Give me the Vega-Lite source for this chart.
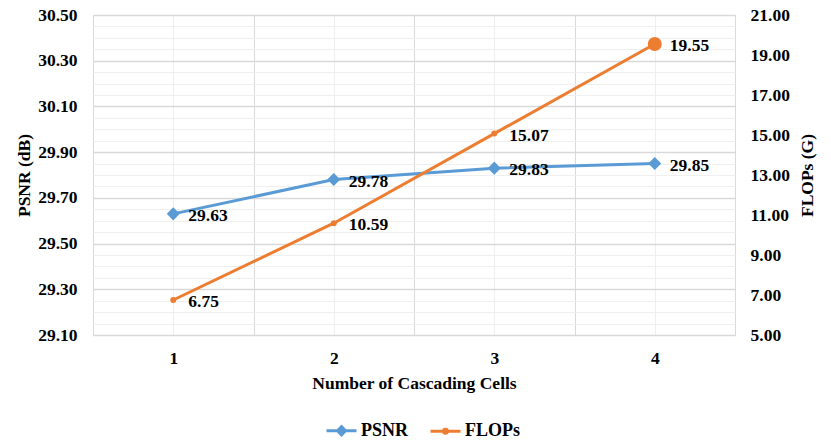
{
  "$schema": "https://vega.github.io/schema/vega-lite/v6.json",
  "autosize": "none",
  "width": 642,
  "height": 320,
  "padding": {"left": 93, "top": 15, "right": 96, "bottom": 107},
  "background": "white",
  "config": {
    "view": {"stroke": "#d9d9d9", "strokeWidth": 1},
    "font": "Liberation Serif",
    "axis": {"labelFont": "Liberation Serif", "titleFont": "Liberation Serif", "labelFontWeight": "bold", "titleFontWeight": "bold", "labelFontSize": 17.5, "titleFontSize": 17.5, "labelColor": "black", "titleColor": "black", "domain": false, "ticks": false, "tickSize": 0},
    "legend": {"labelFont": "Liberation Serif", "labelFontWeight": "bold", "labelFontSize": 18, "labelColor": "black"}
  },
  "data": {"values": [
    {"cells": 1, "series": "PSNR", "value": 29.63},
    {"cells": 2, "series": "PSNR", "value": 29.78},
    {"cells": 3, "series": "PSNR", "value": 29.83},
    {"cells": 4, "series": "PSNR", "value": 29.85},
    {"cells": 1, "series": "FLOPs", "value": 6.75},
    {"cells": 2, "series": "FLOPs", "value": 10.59},
    {"cells": 3, "series": "FLOPs", "value": 15.07},
    {"cells": 4, "series": "FLOPs", "value": 19.55}
  ]},
  "encoding": {
    "x": {
      "field": "cells", "type": "quantitative",
      "scale": {"domain": [0.5, 4.5], "nice": false, "zero": false},
      "axis": {
        "title": "Number of Cascading Cells",
        "values": [0.5, 1, 1.5, 2, 2.5, 3, 3.5, 4, 4.5],
        "labelExpr": "datum.value % 1 == 0 ? format(datum.value, 'd') : ''",
        "labelPadding": 14,
        "titlePadding": 8,
        "grid": true,
        "gridColor": {"condition": {"test": "datum.value % 1 == 0", "value": "#efefef"}, "value": "#d9d9d9"},
        "gridWidth": 1
      }
    }
  },
  "layer": [
    {
      "transform": [{"filter": "datum.series == 'PSNR'"}],
      "encoding": {
        "y": {
          "field": "value", "type": "quantitative",
          "scale": {"domain": [29.1, 30.5], "nice": false, "zero": false},
          "axis": {
            "title": "PSNR (dB)",
            "orient": "left",
            "values": [29.1, 29.15, 29.2, 29.25, 29.3, 29.35, 29.4, 29.45, 29.5, 29.55, 29.6, 29.65, 29.7, 29.75, 29.8, 29.85, 29.9, 29.95, 30.0, 30.05, 30.1, 30.15, 30.2, 30.25, 30.3, 30.35, 30.4, 30.45, 30.5],
            "labelExpr": "abs((datum.value - 29.1) / 0.2 - round((datum.value - 29.1) / 0.2)) < 0.001 ? format(datum.value, '.2f') : ''",
            "labelPadding": 16,
            "titleX": -69,
            "titleY": 160,
            "titleAngle": 270,
            "titleAlign": "center",
            "titleBaseline": "middle",
            "grid": true,
            "gridColor": {"condition": {"test": "abs((datum.value - 29.1) / 0.2 - round((datum.value - 29.1) / 0.2)) < 0.001", "value": "#d9d9d9"}, "value": "#efefef"},
            "gridWidth": {"condition": {"test": "abs((datum.value - 29.1) / 0.2 - round((datum.value - 29.1) / 0.2)) < 0.001", "value": 1.5}, "value": 1}
          }
        }
      },
      "layer": [
        {
          "mark": {"type": "line", "strokeWidth": 3},
          "encoding": {
            "color": {
              "field": "series", "type": "nominal",
              "scale": {"domain": ["PSNR", "FLOPs"], "range": ["#5B9BD5", "#ED7D31"]},
              "legend": {
                "title": null,
                "orient": "none",
                "direction": "horizontal",
                "legendX": 232,
                "legendY": 399,
                "symbolSize": 900,
                "symbolStrokeWidth": 3,
                "labelOffset": 3,
                "columnPadding": 15,
                "encode": {
                  "symbols": {
                    "update": {
                      "shape": {"signal": "datum.value == 'PSNR' ? 'M-1,0L1,0M-0.27,0L0,-0.27L0.27,0L0,0.27Z' : 'M-1,0L1,0M-0.13,0A0.13,0.13,0,1,1,0.13,0A0.13,0.13,0,1,1,-0.13,0Z'"},
                      "fill": {"signal": "scale('color', datum.value)"},
                      "stroke": {"signal": "scale('color', datum.value)"},
                      "strokeWidth": {"value": 3},
                      "opacity": {"value": 1},
                      "fillOpacity": {"value": 1}
                    }
                  }
                }
              }
            }
          }
        },
        {
          "mark": {"type": "point", "shape": "diamond", "filled": true, "opacity": 1, "size": 170},
          "encoding": {"color": {"field": "series", "type": "nominal"}}
        },
        {
          "mark": {"type": "text", "align": "left", "baseline": "middle", "dx": 15, "dy": 2, "fontSize": 17.5, "fontWeight": "bold", "font": "Liberation Serif", "color": "black"},
          "encoding": {"text": {"field": "value", "type": "quantitative", "format": ".2f"}}
        }
      ]
    },
    {
      "transform": [{"filter": "datum.series == 'FLOPs'"}],
      "encoding": {
        "y": {
          "field": "value", "type": "quantitative",
          "scale": {"domain": [5, 21], "nice": false, "zero": false},
          "axis": {
            "title": "FLOPs (G)",
            "orient": "right",
            "values": [5, 7, 9, 11, 13, 15, 17, 19, 21],
            "format": ".2f",
            "labelPadding": 15,
            "titleX": 72,
            "titleY": 160,
            "titleAngle": 270,
            "titleAlign": "center",
            "titleBaseline": "middle",
            "grid": false
          }
        }
      },
      "layer": [
        {
          "mark": {"type": "line", "strokeWidth": 3},
          "encoding": {"color": {"field": "series", "type": "nominal"}}
        },
        {
          "mark": {"type": "point", "shape": "circle", "filled": true, "opacity": 1},
          "encoding": {
            "color": {"field": "series", "type": "nominal"},
            "size": {"condition": {"test": "datum.cells == 4", "value": 196}, "value": 36}
          }
        },
        {
          "mark": {"type": "text", "align": "left", "baseline": "middle", "dx": 15, "dy": 2, "fontSize": 17.5, "fontWeight": "bold", "font": "Liberation Serif", "color": "black"},
          "encoding": {"text": {"field": "value", "type": "quantitative", "format": ".2f"}}
        }
      ]
    }
  ],
  "resolve": {"scale": {"y": "independent"}}
}
